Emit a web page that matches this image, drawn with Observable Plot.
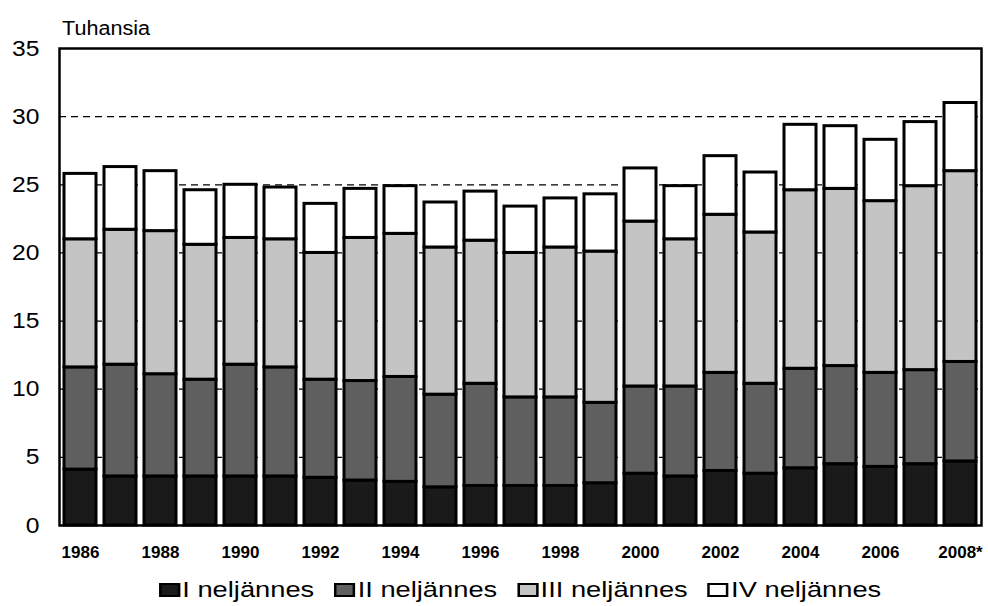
<!DOCTYPE html>
<html>
<head>
<meta charset="utf-8">
<script src="https://cdn.jsdelivr.net/npm/d3@7"></script>
<script src="https://cdn.jsdelivr.net/npm/@observablehq/plot@0.6"></script>
<style>
  body { margin: 0; background: #fff; font-family: "Liberation Sans", Arial, sans-serif; }
  #wrap { position: relative; width: 988px; height: 606px; overflow: hidden; }
  #chart { position: absolute; left: 0; top: 0; }
  #title { position: absolute; left: 62px; top: 18px; font-size: 20px; line-height: 1; transform: scaleX(1.08); transform-origin: left top; color: #000; }
  #legend { position: absolute; left: 59px; width: 922px; top: 579px; display: flex; justify-content: center; font-size: 22px; line-height: 1; transform: scaleX(1.24); transform-origin: center; color: #000; }
  .item { display: flex; align-items: center; margin: 0 8px; white-space: nowrap; }
  .sw { width: 17px; height: 14px; border: 2px solid #000; margin-right: 2px; box-sizing: border-box; }
</style>
</head>
<body>
<div id="wrap">
  <div id="chart"></div>
  <div id="title">Tuhansia</div>
  <div id="legend"></div>
</div>
<script>
const years = [1986, 1987, 1988, 1989, 1990, 1991, 1992, 1993, 1994, 1995, 1996, 1997,
               1998, 1999, 2000, 2001, 2002, 2003, 2004, 2005, 2006, 2007, 2008];
const quarters = ["I neljännes", "II neljännes", "III neljännes", "IV neljännes"];
const q1 = [4.1, 3.6, 3.6, 3.6, 3.6, 3.6, 3.5, 3.3, 3.2, 2.8, 2.9, 2.9, 2.9, 3.1, 3.8, 3.6, 4.0, 3.8, 4.2, 4.5, 4.3, 4.5, 4.7];
const q2 = [7.5, 8.2, 7.5, 7.1, 8.2, 8.0, 7.2, 7.3, 7.7, 6.8, 7.5, 6.5, 6.5, 5.9, 6.4, 6.6, 7.2, 6.6, 7.3, 7.2, 6.9, 6.9, 7.3];
const q3 = [9.4, 9.9, 10.5, 9.9, 9.3, 9.4, 9.3, 10.5, 10.5, 10.8, 10.5, 10.6, 11.0, 11.1, 12.1, 10.8, 11.6, 11.1, 13.1, 13.0, 12.6, 13.5, 14.0];
const q4 = [4.8, 4.6, 4.4, 4.0, 3.9, 3.8, 3.6, 3.6, 3.5, 3.3, 3.6, 3.4, 3.6, 4.2, 3.9, 3.9, 4.3, 4.4, 4.8, 4.6, 4.5, 4.7, 5.0];
const fills = ["#1a1a1a", "#5f5f5f", "#c4c4c4", "#ffffff"];
const yTicks = [0, 5, 10, 15, 20, 25, 30, 35];
const gridLines = [5, 10, 15, 20, 25, 30];
const tickYears = [1986, 1988, 1990, 1992, 1994, 1996, 1998, 2000, 2002, 2004, 2006, 2008];
const tickLabels = ["1986", "1988", "1990", "1992", "1994", "1996", "1998", "2000", "2002", "2004", "2006", "2008*"];

const series = [q1, q2, q3, q4];
const rows = years.flatMap((yr, i) => series.map((s, j) => ({year: yr, quarter: quarters[j], value: s[i]})));

const chart = Plot.plot({
  width: 988,
  height: 570,
  marginLeft: 59,
  marginRight: 7,
  marginTop: 48,
  marginBottom: 45,
  style: {fontFamily: "'Liberation Sans', Arial, sans-serif", fontSize: "17px", background: "white", color: "#000", overflow: "visible"},
  x: {type: "band", domain: years, paddingInner: 0.19, paddingOuter: 0.11},
  y: {domain: [0, 35]},
  color: {domain: quarters, range: fills},
  marks: [
    Plot.ruleY(gridLines, {stroke: "#000", strokeWidth: 1.2, strokeDasharray: "7,5"}),
    Plot.barY(rows, {x: "year", y: "value", fill: "quarter", stroke: "#000", strokeWidth: 3}),
    Plot.frame({stroke: "#000", strokeWidth: 2.5}),
    Plot.axisY({ticks: yTicks, tickSize: 0, tickPadding: 20, fontSize: 22, label: null}),
    Plot.axisX({ticks: tickYears, tickFormat: d => tickLabels[tickYears.indexOf(d)], tickSize: 0, tickPadding: 20, fontWeight: "bold", label: null})
  ]
});
document.getElementById("chart").appendChild(chart);

// widen y tick labels like the reference typography
chart.querySelectorAll('g[aria-label="y-axis tick label"] text').forEach(t => {
  const L = t.getComputedTextLength();
  t.setAttribute("textLength", L * 1.12);
  t.setAttribute("lengthAdjust", "spacingAndGlyphs");
});

const legend = document.getElementById("legend");
quarters.forEach((q, j) => {
  const item = document.createElement("div");
  item.className = "item";
  const sw = document.createElement("span");
  sw.className = "sw";
  sw.style.background = fills[j];
  const tx = document.createElement("span");
  tx.textContent = q;
  item.appendChild(sw);
  item.appendChild(tx);
  legend.appendChild(item);
});
</script>
</body>
</html>
